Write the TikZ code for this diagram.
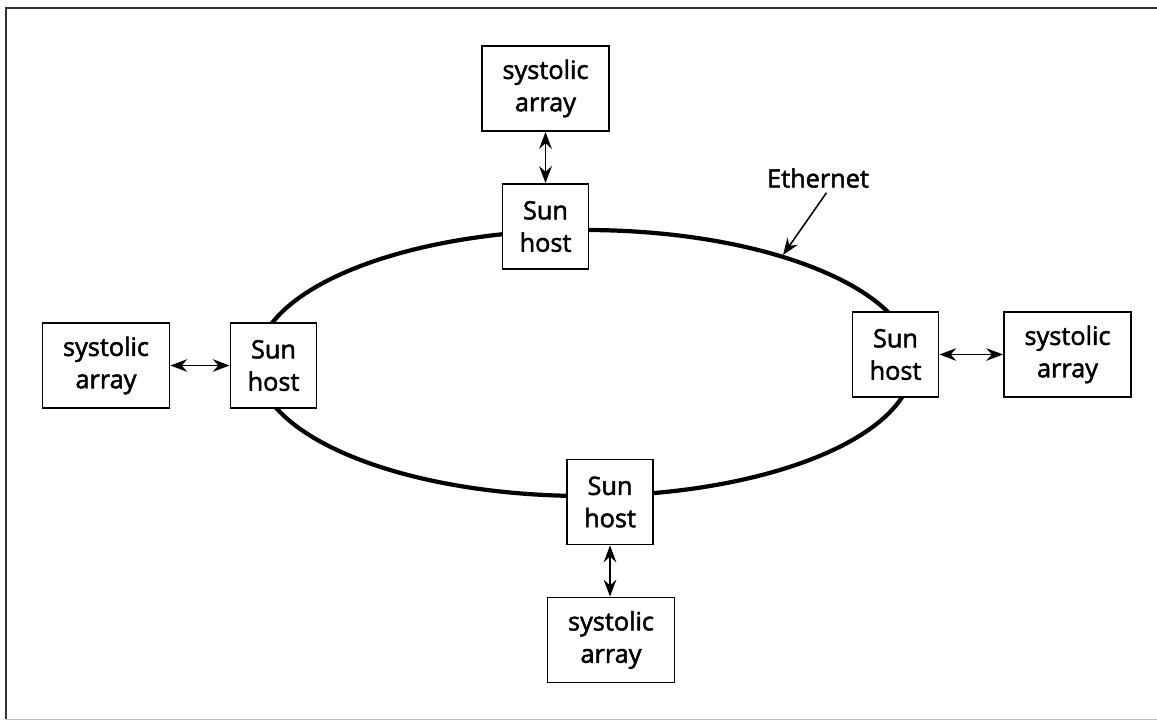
\documentclass[tikz,border=0pt]{standalone}
\usepackage{fontspec}
\setmainfont{Open Sans}
\newfontfamily\labelfont{Open Sans}[FakeBold=2]
\usetikzlibrary{arrows.meta}

\tikzset{
	hostbox/.style={draw, fill=white, line width=1.3pt, inner sep=0pt, align=center,
		minimum width=2.15cm, minimum height=2.125cm, font=\labelfont\fontsize{18}{23}\selectfont},
	arraybox/.style={hostbox, minimum width=3.175cm},
	tip/.style={>={Stealth[length=12pt, width=9pt, inset=4pt]}},
	link/.style={<->, tip, line width=1.1pt},
}

\begin{document}
\begin{tikzpicture}[x=0.025cm, y=-0.025cm]
	\useasboundingbox (0, 0) rectangle (1157, 722);
	
	% Rahmen
	\draw[line width=1.2pt, black!80] (6, 719) -- (6, 8) -- (1157, 8);
	\draw[line width=0.6pt, black!25] (6, 719) -- (1157, 719);
	
	% Ethernet-Ring
	\draw[line width=3pt] (585, 363) ellipse (328 and 133);
	
	\node[hostbox] (hosttop) at (545.5, 226.5) {Sun\\host};
	\node[hostbox] (hostleft) at (273.5, 365.5) {Sun\\host};
	\node[hostbox] (hostright) at (895.5, 354.5) {Sun\\host};
	\node[hostbox] (hostbottom) at (610, 502) {Sun\\host};
	
	\node[arraybox] (arraytop) at (545.5, 88.5) {systolic\\array};
	\node[arraybox] (arrayleft) at (106, 365.5) {systolic\\array};
	\node[arraybox] (arrayright) at (1067.5, 354.5) {systolic\\array};
	\node[arraybox] (arraybottom) at (611, 640) {systolic\\array};
	
	\draw[link] (arraytop) -- (hosttop);
	\draw[link] (arrayleft) -- (hostleft);
	\draw[link] (hostright) -- (arrayright);
	\draw[link] (hostbottom) -- (hostbottom |- arraybottom.north);
	
	% Beschriftung
	\node[font=\labelfont\fontsize{18}{23}\selectfont] (ethernet) at (818, 178) {Ethernet};
	\coordinate (ethtip) at (783, 255);
	\draw[->, tip, line width=1.1pt] (ethernet.-60) -- (ethtip);
\end{tikzpicture}
\end{document}
